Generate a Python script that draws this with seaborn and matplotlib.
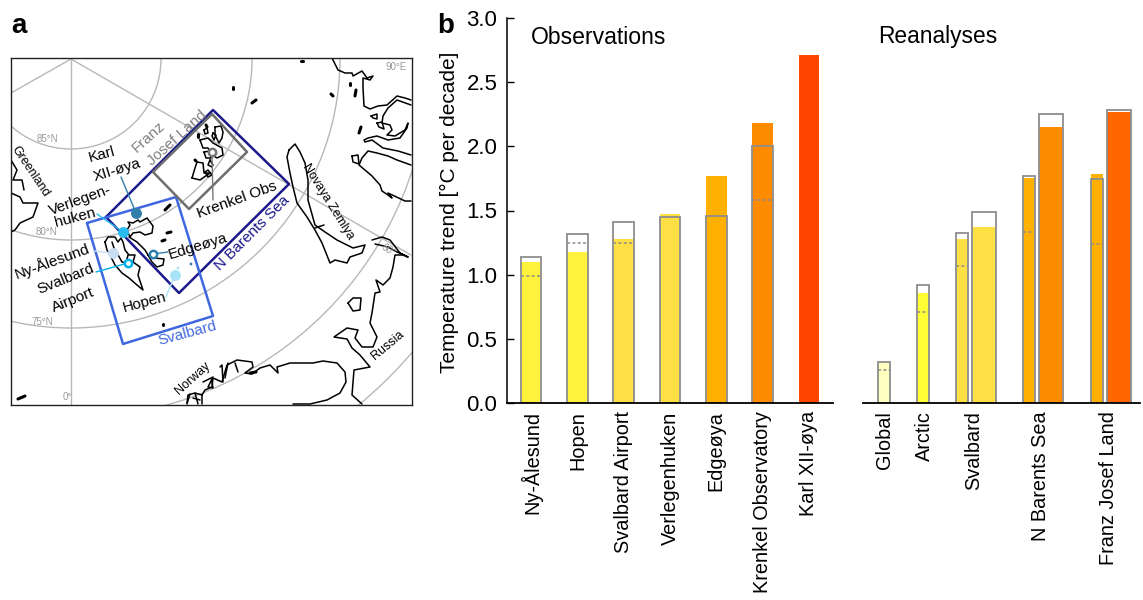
import numpy as np
import pandas as pd
import matplotlib.pyplot as plt
from matplotlib.patches import Circle
import seaborn as sns

# bar panel values (degC per decade)
obs_sites = ['Ny-Ålesund', 'Hopen', 'Svalbard Airport', 'Verlegenhuken', 'Edgeøya',
             'Krenkel Observatory', 'Karl XII-øya']
obs_trend = [1.10, 1.18, 1.275, 1.475, 1.77, 2.18, 2.71]
obs_outline = [1.138, 1.32, 1.41, 1.45, 1.458, 2.0, np.nan]
obs_dashed = [0.99, 1.247, 1.247, np.nan, np.nan, 1.58, np.nan]
obs_colors = ['#FFF23C', '#FFF23C', '#FFE044', '#FFE044', '#FFB000', '#FF8C00', '#FF4500']

rea_regions = ['Global', 'Arctic', 'Svalbard', 'N Barents Sea', 'Franz Josef Land']
rea_trend = [0.32, 0.86, 1.275, 1.753, 1.785]
rea_outline = [0.32, 0.92, 1.327, 1.765, 1.745]
rea_dashed = [0.255, 0.712, 1.07, 1.335, 1.24]
rea_colors = ['#FFFFC0', '#FFFF33', '#FFE044', '#FFB000', '#FFB000']

wide_regions = ['Svalbard', 'N Barents Sea', 'Franz Josef Land']
wide_trend = [1.375, 2.15, 2.27]
wide_outline = [1.487, 2.25, 2.282]
wide_colors = ['#FFE044', '#FF8C00', '#FF6600']

# map outlines, in picture pixels
norway_kola = [(187,403),(188,395),(195,393),(202,395),(205,390),(212,387),(213,378),(222,382),(227,365),
               (237,360),(252,362),(253,367),(245,373),(252,374),(260,368),(270,365),(278,373),(277,367),
               (290,363),(313,363),(323,361),(337,363),(345,372),(346,382),(340,393),(327,400),(310,404),(293,404)]
fjords = [[(203,382),(213,377),(208,387),(213,388),(212,382)], [(220,367),(222,365),(223,382)],
          [(228,363),(225,378)], [(235,363),(238,372)], [(190,394),(187,404)], [(195,393),(198,404)],
          [(202,395),(202,404)], [(193,398),(200,400)]]
russia_west = [(362,404),(352,395),(354,370),(370,367),(360,355),(352,348),(347,339),(334,337),(347,328),
               (358,330),(355,338),(362,347),(373,347),(377,337),(370,323),(372,313),(375,293),(380,292),
               (376,280),(383,285),(390,278),(393,267),(395,255),(403,255),(408,257)]
kolguev = [(348,303),(353,298),(361,298),(360,310),(353,311),(348,303)]
russia_north = [(332,58),(338,70),(345,73),(352,73),(353,76),(362,71),(367,78),(373,76),(370,80),(363,78),
                (363,88),(364,106),(370,109),(378,106),(387,105),(397,96),(405,98),(411,100)]
taymyr_gulf = [(411,105),(397,100),(388,108),(383,116),(382,123),(390,125),(392,130),(387,135),(395,136),
               (405,130),(408,123),(407,128),(400,138),(388,140),(377,136),(368,138),(364,140),(365,142),
               (372,140),(383,148),(398,151),(411,155)]
yamal = [(411,165),(397,160),(388,156),(377,153),(368,151),(362,158),(359,165),(372,176),(380,185),(382,191),
         (388,195),(392,198),(388,193),(405,201),(411,201)]
bely_isl = [(352,156),(358,155),(359,164),(353,162),(352,156)]
kara_isl1 = [(371,116),(377,114),(377,119),(373,118),(371,116)]
kara_isl2 = [(377,123),(382,122),(384,129),(379,127),(377,123)]
novaya_zemlya = [(289,150),(295,144),(300,152),(305,163),(308,180),(308,200),(315,225),(325,232),(337,240),
                 (353,248),(365,245),(362,253),(350,257),(347,263),(335,260),(330,263),(322,243),(315,230),
                 (307,217),(297,203),(293,187),(290,173),(287,157),(289,150)]
nz_strait = [(315,228),(324,225)]
vaygach = [(372,240),(382,237),(390,240),(400,253),(408,257),(397,252),(388,247),(375,244)]
greenland_a = [(11,193),(20,197),(23,203),(38,203),(33,217),(20,223),(15,230),(11,232)]
greenland_b = [(11,160),(17,170),(13,180),(22,180),(24,190)]
spitsbergen = [(105,242),(108,237),(115,237),(118,242),(121,238),(123,242),(125,250),(129,255),(135,255),(133,262),
               (140,267),(138,275),(143,290),(137,285),(129,278),(122,273),(115,265),(111,257),(107,250),(105,242)]
sp_fjord = [(112,242),(114,248),(117,253),(122,262),(126,263),(128,255)]
sp_east = [(129,237),(137,242),(145,250),(148,255)]
nordaust = [(127,230),(130,225),(128,222),(133,223),(138,220),(140,222),(147,218),(153,226),(152,233),(145,235),
            (140,232),(133,233),(130,237),(127,230)]
edge_isl = [(148,255),(155,258),(164,259),(163,265),(157,267),(152,262),(148,255)]
fjl_a = [(215,127),(221,126),(223,132),(222,138),(219,143),(215,135),(215,127)]
fjl_b = [(200,140),(208,138),(213,143),(222,148),(223,155),(217,158),(212,155),(208,148),(203,148),(200,140)]
fjl_c = [(192,178),(195,168),(197,162),(203,163),(204,173),(210,173),(200,180),(192,178)]
fjl_d = [(210,160),(213,165),(212,167),(208,165),(210,160)]
fjl_e = [(204,130),(207,128),(208,133),(205,134),(204,130)]
fjl_f = [(213,133),(216,135),(214,140),(212,136),(213,133)]
fjl_g = [(205,172),(208,170),(212,175),(208,177),(205,172)]
fjl_h = [(204,152),(210,151),(211,158),(206,158),(204,152)]
coasts = [norway_kola, russia_west, kolguev, russia_north, taymyr_gulf, yamal, bely_isl, kara_isl1, kara_isl2,
          novaya_zemlya, nz_strait, vaygach, greenland_a, greenland_b, spitsbergen, sp_fjord, sp_east, nordaust,
          edge_isl, fjl_a, fjl_b, fjl_c, fjl_d, fjl_e, fjl_f, fjl_g, fjl_h] + fjords
# small elongated islands
islets = [[(331,94),(333,96)], [(350,83),(350,85)], [(356,90),(355,96)], [(361,127),(359,133)], [(301,61),(303,61)],
          [(233,87),(233,89)], [(252,103),(256,100)], [(163,324),(163,325)], [(18,399),(25,396)], [(206,125),(207,127)],
          [(198,134),(198,137)], [(195,160),(196,161)], [(165,210),(170,205)], [(162,241),(165,240)],
          [(167,233),(171,232)], [(250,373),(256,372)]]

barents_box = [(106,217),(213,110),(289,184),(179,293),(106,217)]
fjl_box = [(153,172),(212,114),(247,152),(189,209),(153,172)]
svalbard_box = [(87,223),(176,197),(213,316),(123,344),(87,223)]

# x, y, leader end x, leader end y, face, edge
stations = [(136,213,121,177,'#2F7FA8','#2F7FA8'), (123,232,97,214,'#2ABBEE','#2ABBEE'),
            (113,253,93,251,'#C9DCF0','#C9DCF0'), (128,263,96,272,'white','#00B2E8'),
            (153,254,168,252,'white','#2F7FA8'), (175,275,166,297,'#A8E4F8','#A8E4F8'),
            (212,152,213,200,'white','#777777')]

# text, x, y, rotation, size, colour
map_labels = [('Greenland',30,172,-56,9,'black'), ('Karl',102,155,15,11,'black'), ('XII-øya',117,170,17,11,'black'),
              ('Verlegen-',80,200,20,11,'black'), ('huken',75,218,15,11,'black'), ('Franz',149,137,42,11,'#808080'),
              ('Josef Land',177,138,42,11,'#808080'), ('Krenkel Obs',237,200,20,11,'black'),
              ('Edgeøya',198,246,17,11,'black'), ('Ny-Ålesund',52,261,20,11,'black'), ('Svalbard',66,279,22,11,'black'),
              ('Airport',73,300,22,11,'black'), ('Hopen',145,302,15,11,'black'), ('N Barents Sea',252,233,45,11,'#1A1A8C'),
              ('Svalbard',187,333,15,11,'#4169E1'), ('Novaya Zemlya',328,202,-58,9,'black'), ('Russia',388,345,40,9,'black'),
              ('Norway',193,378,42,9,'black'), ('85°N',47,139,0,7,'#999999'), ('80°N',46,232,0,7,'#999999'),
              ('75°N',42,322,0,7,'#999999'), ('0°',67,397,0,7,'#999999'), ('90°E',396,67,0,7,'#999999'),
              ('60°',388,250,-30,7,'#999999')]

pole = (71, 59)
lat_radii = [90, 181, 269, 359, 450]
meridian_ends = [(71,405),(411,255),(11,93)]

# layout in picture pixels
W, H = 1143, 600
narrow_x = [884, 923, 962, 1029, 1097]
wide_x = [984, 1051, 1119]
rea_label_x = [885, 924, 974, 1041, 1108]
OUTLINE = '#8E8E8E'

sns.set_style('ticks')
plt.rcParams['font.family'] = ['Liberation Sans', 'DejaVu Sans']
plt.rcParams['text.color'] = 'black'
plt.rcParams['axes.labelcolor'] = 'black'
plt.rcParams['xtick.labelcolor'] = 'black'
plt.rcParams['ytick.labelcolor'] = 'black'
plt.rcParams['xtick.color'] = 'black'
plt.rcParams['ytick.color'] = 'black'
plt.rcParams['axes.edgecolor'] = 'black'


def px_axes(fig, left, right, top, bottom):
    return fig.add_axes([left / W, 1 - bottom / H, (right - left) / W, (bottom - top) / H])


def bars(ax, x, y, names, colors, width, native):
    df = pd.DataFrame({'x': x, 'y': y, 'name': names})
    sns.barplot(data=df, x='x', y='y', hue='name', palette=colors, dodge=False, legend=False, errorbar=None,
                native_scale=native, width=width, saturation=1, linewidth=0, ax=ax)


def outlines(ax, x, y, width, native):
    df = pd.DataFrame({'x': x, 'y': y}).dropna()
    sns.barplot(data=df, x='x', y='y', fill=False, color=OUTLINE, errorbar=None, native_scale=native,
                width=width, linewidth=1.3, saturation=1, order=None if native else x, ax=ax)


fig = plt.figure(figsize=(W / 100, H / 100), dpi=100)

# panel a
ax_map = px_axes(fig, 10.5, 411.5, 58, 405)
ax_map.set_xlim(10.5, 411.5)
ax_map.set_ylim(405, 58)
ax_map.set_xticks([])
ax_map.set_yticks([])
for s in ax_map.spines.values():
    s.set_visible(True)
    s.set_linewidth(1)
    s.set_color('#222222')
for r in lat_radii:
    ax_map.add_patch(Circle(pole, r, fill=False, ec='#B8B8B8', lw=1))
for end in meridian_ends:
    ax_map.plot([pole[0], end[0]], [pole[1], end[1]], color='#B8B8B8', lw=1)
for c in coasts:
    xs, ys = zip(*c)
    ax_map.plot(xs, ys, color='black', lw=1.1, solid_joinstyle='round')
for c in islets:
    xs, ys = zip(*c)
    ax_map.plot(xs, ys, color='black', lw=2.2, solid_capstyle='round', zorder=3)
for box, col in [(barents_box, '#1A1A8C'), (svalbard_box, '#3F67E0'), (fjl_box, '#6E6E6E')]:
    xs, ys = zip(*box)
    ax_map.plot(xs, ys, color=col, lw=1.8, zorder=4)
for x, y, lx, ly, face, edge in stations:
    ax_map.plot([x, lx], [y, ly], color=edge, lw=1, zorder=5)
    ring = face == 'white'
    ax_map.scatter([x], [y], s=28 if ring else 62, facecolor=face, edgecolor=edge, linewidths=1.8 if ring else 0, zorder=6)
ax_map.scatter([191, 178], [264, 268], s=4, color=['#2F7FA8', '#A8E4F8'], linewidths=0, zorder=6)
for txt, x, y, rot, size, col in map_labels:
    ax_map.text(x, y, txt, rotation=rot, fontsize=size, color=col, ha='center', va='center',
                rotation_mode='anchor', zorder=7)

# panel b, observations
ax_obs = px_axes(fig, 507, 833, 18, 403)
bars(ax_obs, obs_sites, obs_trend, obs_sites, obs_colors, 0.45, False)
outlines(ax_obs, obs_sites, obs_outline, 0.45, False)
ax_obs.hlines(obs_dashed, np.arange(7) - 0.225, np.arange(7) + 0.225, color=OUTLINE, lw=1.1, ls=(0, (2, 1.5)))
ax_obs.set_xlim(-0.52, 6.52)
ax_obs.set_ylim(0, 3)
ax_obs.set_yticks(np.arange(0, 3.1, 0.5))
ax_obs.tick_params(axis='y', direction='in', length=5, width=1, labelsize=16, pad=7)
ax_obs.tick_params(axis='x', length=0, labelsize=14.3, pad=6)
ax_obs.set_xticks(range(7))
ax_obs.set_xticklabels(obs_sites, rotation=90)
ax_obs.set_xlabel('')
ax_obs.set_ylabel('Temperature trend [°C per decade]', fontsize=15, labelpad=5, y=0.495)
sns.despine(ax=ax_obs)
ax_obs.spines['left'].set_linewidth(1.1)
ax_obs.spines['bottom'].set_linewidth(1.3)

# panel b, reanalyses
ax_rea = px_axes(fig, 863, 1140, 18, 403)
bars(ax_rea, narrow_x, rea_trend, rea_regions, rea_colors, 12.5 / 39, True)
outlines(ax_rea, narrow_x, rea_outline, 12.5 / 39, True)
bars(ax_rea, wide_x, wide_trend, wide_regions, wide_colors, 24.5 / 67, True)
outlines(ax_rea, wide_x, wide_outline, 24.5 / 67, True)
ax_rea.hlines(rea_dashed, np.array(narrow_x) - 6, np.array(narrow_x) + 6, color=OUTLINE, lw=1.1, ls=(0, (2, 1.5)))
ax_rea.set_xlim(863, 1140)
ax_rea.set_ylim(0, 3)
ax_rea.set_yticks([])
ax_rea.set_xticks(rea_label_x)
ax_rea.set_xticklabels(rea_regions, rotation=90)
ax_rea.tick_params(axis='x', length=0, labelsize=14.3, pad=6)
ax_rea.set_xlabel('')
ax_rea.set_ylabel('')
sns.despine(ax=ax_rea, left=True)
ax_rea.spines['bottom'].set_linewidth(1.3)

fig.text(531 / W, 1 - 37 / H, 'Observations', fontsize=16.6, va='center')
fig.text(878 / W, 1 - 37 / H, 'Reanalyses', fontsize=16.4, va='center')
fig.text(11 / W, 1 - 33 / H, 'a', fontsize=20, fontweight='bold')
fig.text(437 / W, 1 - 33 / H, 'b', fontsize=20, fontweight='bold')

plt.savefig('out.png', dpi=100)
